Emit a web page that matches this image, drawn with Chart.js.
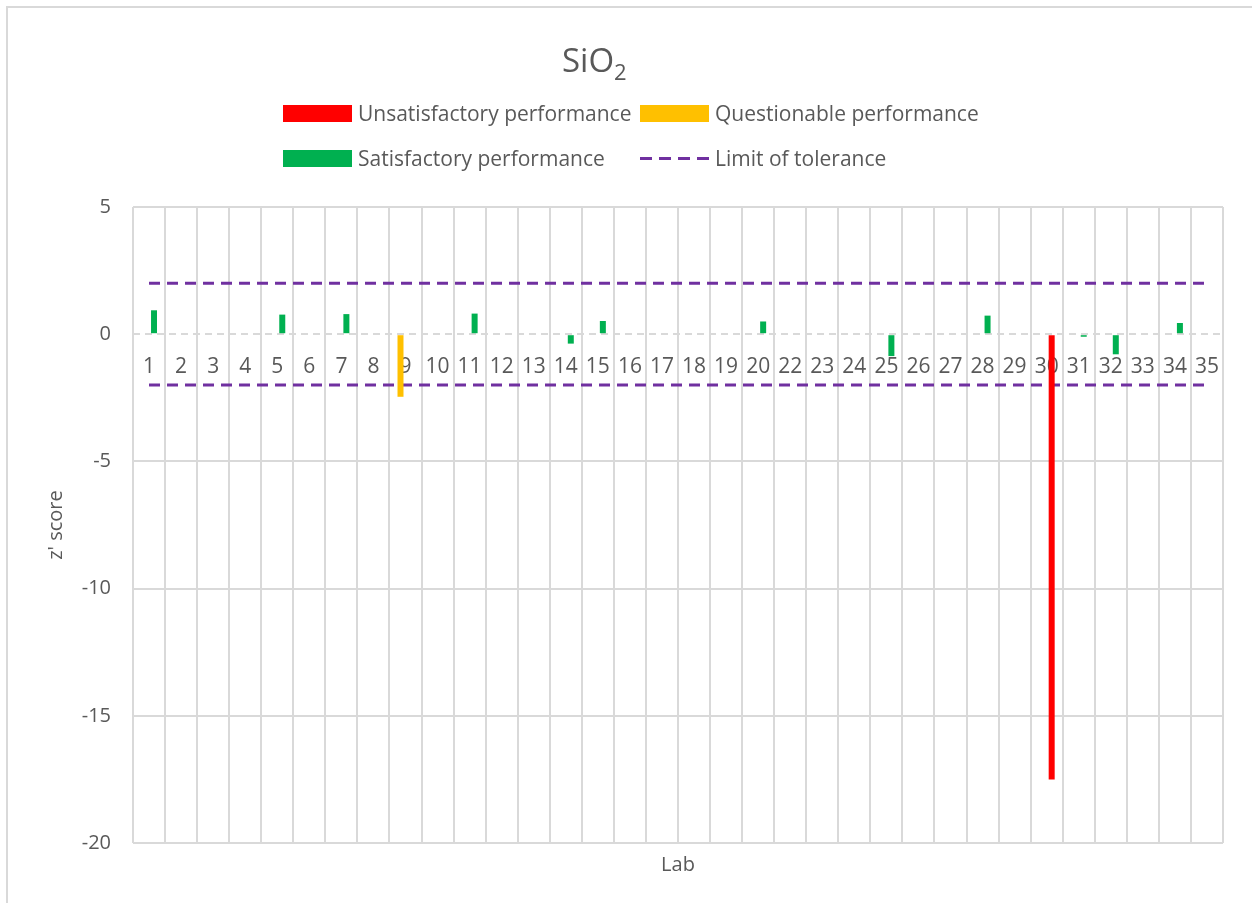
<!DOCTYPE html>
<html lang="en">
<head>
<meta charset="UTF-8">
<title>SiO2 z' score</title>
<script src="https://cdn.jsdelivr.net/npm/chart.js"></script>
<style>
    body {
        margin: 0;
        background: #fff;
        font-family: 'Open Sans', sans-serif;
        color: #595959;
    }

    #wrap {
        position: relative;
        width: 1252px;
        height: 903px;
        overflow: hidden;
    }

    #frame {
        position: absolute;
        left: 6px;
        top: 6px;
        width: 1400px;
        height: 1000px;
        border-left: 2px solid #d9d9d9;
        border-top: 2px solid #d9d9d9;
    }

    #chartBox {
        position: absolute;
        left: 0;
        top: 0;
        width: 1252px;
        height: 903px;
    }

    #title {
        position: absolute;
        left: 562px;
        top: 37px;
        font-size: 33px;
    }

    #title sub {
        font-size: 22px;
    }

    #legend {
        position: absolute;
        left: 283px;
        top: 100px;
        display: grid;
        grid-template-columns: 357px auto;
        grid-auto-rows: 45px;
    }

    .item {
        display: flex;
        align-items: center;
        height: 26px;
        font-size: 21px;
        white-space: nowrap;
    }

    .swatch {
        width: 69px;
        height: 17px;
        margin-right: 6px;
    }

    .dash {
        height: 3px;
    }
</style>
</head>
<body>

<div id="wrap">
    <div id="frame"></div>
    <div id="chartBox"><canvas id="zChart"></canvas></div>
    <div id="title">SiO<sub>2</sub></div>
    <div id="legend"></div>
</div>

<script>
    // lab numbers as they appear on the axis (no lab 21)
    const labs = ['1', '2', '3', '4', '5', '6', '7', '8', '9', '10', '11', '12', '13', '14', '15', '16', '17',
        '18', '19', '20', '22', '23', '24', '25', '26', '27', '28', '29', '30', '31', '32', '33', '34', '35'];

    const unsatisfactory = [null, null, null, null, null, null, null, null, null, null, null, null, null, null, null, null, null,
        null, null, null, null, null, null, null, null, null, null, null, -17.5, null, null, null, null, null];

    const questionable = [null, null, null, null, null, null, null, null, -2.46, null, null, null, null, null, null, null, null,
        null, null, null, null, null, null, null, null, null, null, null, null, null, null, null, null, null];

    const satisfactory = [0.94, null, null, null, 0.77, null, 0.79, null, null, null, 0.81, null, null, -0.37, 0.52, null, null,
        null, null, 0.50, null, null, null, -0.86, null, null, 0.73, null, null, -0.1, -0.79, null, 0.44, null];

    // limit of tolerance, drawn from first to last lab
    const limitLabs = ['1', '35'];
    const upperLimit = [2, 2];
    const lowerLimit = [-2, -2];

    const yTicks = [-20, -15, -10, -5, 0, 5];

    const textColor = '#595959';
    const gridColor = '#d9d9d9';

    Chart.defaults.font.family = "'Open Sans', sans-serif";
    Chart.defaults.color = textColor;

    // dashed horizontal axis line at z' = 0, under the bars
    const zeroLine = {
        id: 'zeroLine',
        beforeDatasetsDraw(chart) {
            const { ctx, chartArea, scales } = chart;
            const y = Math.round(scales.y.getPixelForValue(0));
            ctx.save();
            ctx.strokeStyle = gridColor;
            ctx.lineWidth = 2;
            ctx.setLineDash([7, 5]);
            ctx.beginPath();
            ctx.moveTo(chartArea.left, y);
            ctx.lineTo(chartArea.right, y);
            ctx.stroke();
            ctx.restore();
        }
    };

    const ctx = document.getElementById('zChart').getContext('2d');

    const chart = new Chart(ctx, {
        type: 'bar',
        data: {
            labels: labs,
            datasets: [
                {
                    label: 'Questionable performance',
                    data: questionable,
                    backgroundColor: '#FFC000',
                    stack: 'a'
                },
                {
                    label: 'Unsatisfactory performance',
                    data: unsatisfactory,
                    backgroundColor: '#FF0000',
                    stack: 'b'
                },
                {
                    label: 'Satisfactory performance',
                    data: satisfactory,
                    backgroundColor: '#00B050',
                    stack: 'b'
                },
                {
                    type: 'line',
                    label: 'Limit of tolerance',
                    data: limitLabs.map((l, i) => ({ x: l, y: upperLimit[i] })),
                    borderColor: '#7030A0',
                    borderWidth: 3,
                    borderDash: [11, 7],
                    pointRadius: 0,
                    fill: false
                },
                {
                    type: 'line',
                    label: 'Limit of tolerance (lower)',
                    data: limitLabs.map((l, i) => ({ x: l, y: lowerLimit[i] })),
                    borderColor: '#7030A0',
                    borderWidth: 3,
                    borderDash: [11, 7],
                    pointRadius: 0,
                    fill: false
                }
            ]
        },
        options: {
            responsive: true,
            maintainAspectRatio: false,
            animation: false,
            categoryPercentage: 0.624,
            barPercentage: 0.6,
            layout: {
                padding: { left: 40, right: 29, top: 207, bottom: 22 }
            },
            plugins: {
                legend: { display: false },
                tooltip: { enabled: false }
            },
            scales: {
                x: {
                    position: { y: 0 },
                    ticks: {
                        autoSkip: false,
                        maxRotation: 0,
                        padding: 20,
                        font: { size: 21 }
                    },
                    grid: { color: gridColor, lineWidth: 2, drawTicks: false },
                    border: { display: false }
                },
                x2: {
                    type: 'category',
                    position: 'bottom',
                    ticks: { display: false },
                    grid: { display: false, drawTicks: false },
                    border: { display: false },
                    title: {
                        display: true,
                        text: 'Lab',
                        font: { size: 20 },
                        padding: { top: 4, bottom: 4 }
                    },
                    afterFit: (scale) => { scale.height = 38; }
                },
                y: {
                    min: yTicks[0],
                    max: yTicks[yTicks.length - 1],
                    stacked: false,
                    afterBuildTicks: (scale) => { scale.ticks = yTicks.map(v => ({ value: v })); },
                    ticks: { padding: 22, font: { size: 20 } },
                    grid: {
                        color: (c) => (c.tick && c.tick.value === 0) ? 'rgba(0,0,0,0)' : gridColor,
                        lineWidth: 2,
                        drawTicks: false
                    },
                    border: { display: false },
                    title: {
                        display: true,
                        text: "z' score",
                        font: { size: 20 },
                        padding: { top: 4, bottom: 4 }
                    },
                    afterFit: (scale) => { scale.width = 93; }
                }
            }
        },
        plugins: [zeroLine]
    });

    // legend laid out in two aligned columns like the original
    const legendOrder = [1, 0, 2, 3];
    const legendBox = document.getElementById('legend');
    legendOrder.forEach(i => {
        const ds = chart.data.datasets[i];
        const item = document.createElement('div');
        item.className = 'item';
        const sw = document.createElement('span');
        if (ds.type === 'line') {
            sw.className = 'swatch dash';
            sw.style.background = 'repeating-linear-gradient(to right, ' + ds.borderColor + ' 0 12px, transparent 12px 19px)';
        } else {
            sw.className = 'swatch';
            sw.style.background = ds.backgroundColor;
        }
        item.appendChild(sw);
        item.appendChild(document.createTextNode(ds.label));
        legendBox.appendChild(item);
    });
</script>

</body>
</html>
